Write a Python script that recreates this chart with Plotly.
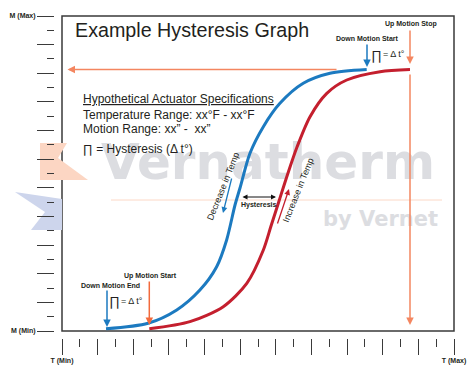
import plotly.graph_objects as go

# ---------------- data ----------------
x_tickvals = list(range(0, 23, 2))
x_ticktext = ["T (Min)"] + [""] * 10 + ["T (Max)"]
y_tickvals = list(range(0, 23, 2))
y_ticktext = ["M (Min)"] + [""] * 10 + ["M (Max)"]

# Decrease in Temp (blue) curve, T vs M in tick units
decrease_T = [2.47, 4.83, 6.44, 7.74, 8.68, 9.24, 9.71, 9.99, 10.55, 11.30, 12.23, 13.54, 15.04, 17.10]
decrease_M = [0.15, 0.54, 1.47, 2.86, 4.49, 6.36, 8.80, 9.99, 12.41, 14.27, 15.90, 17.30, 18.00, 18.26]
# Increase in Temp (red) curve
increase_T = [4.90, 7.18, 9.05, 10.37, 11.30, 11.73, 12.18, 12.63, 13.19, 13.92, 14.86, 15.98, 17.85, 19.53]
increase_M = [0.15, 0.65, 1.70, 3.33, 5.66, 7.33, 9.08, 10.83, 12.85, 14.97, 16.60, 17.53, 18.11, 18.26]

# ---------------- layout geometry ----------------
# the page body adds an 8px offset, so the figure is 8px smaller and margins shifted
OFF = 8
W, H = 475 - OFF, 381 - OFF
ML, MR, MT, MB = 54 - OFF, 21, 16 - OFF, 43
PW = W - ML - MR
PH = H - MT - MB
XD0 = 8 / PW
YD0 = 7 / PH

# helpers convert window-pixel positions (as measured on the reference) to axis / paper units
def X(px):
    return (px - OFF - (ML + 8)) / (PW * (1 - XD0)) * 22


def Y(py):
    return (H - MB - 7 - (py - OFF)) / (PH * (1 - YD0)) * 22


def PXp(px):
    return (px - OFF - ML) / PW


def PYp(py):
    return (H - MB - (py - OFF)) / PH


BLUE = "#1c7ac0"
RED = "#c41f2e"
ORANGE = "#f26a3c"
ORANGE_L = "#f48660"
INK = "#231f20"
FONT = "Liberation Sans, Arial, sans-serif"

fig = go.Figure()

# watermark (drawn first so the curves sit on top)
fig.add_trace(go.Scatter(x=[X(268)], y=[Y(166)], mode="text", text=["Vernatherm"],
                         textfont=dict(family="DejaVu Sans", size=50, color="#dcdde1", weight="bold"),
                         hoverinfo="skip", showlegend=False))
fig.add_trace(go.Scatter(x=[X(380.5)], y=[Y(221)], mode="text", text=["by Vernet"],
                         textfont=dict(family="DejaVu Sans", size=21, color="#dcdde1", weight="bold"),
                         hoverinfo="skip", showlegend=False))

fig.add_trace(go.Scatter(x=decrease_T, y=decrease_M, mode="lines",
                         line=dict(color=BLUE, width=3, shape="spline", smoothing=0.8),
                         hoverinfo="skip", showlegend=False))
fig.add_trace(go.Scatter(x=increase_T, y=increase_M, mode="lines",
                         line=dict(color=RED, width=3, shape="spline", smoothing=0.8),
                         hoverinfo="skip", showlegend=False))

shapes = [
    dict(type="rect", xref="x domain", yref="y domain", x0=0, x1=1, y0=0, y1=1,
         line=dict(color="#3a3a3a", width=1.5), layer="below"),
    dict(type="line", xref="x", yref="y", x0=X(111), x1=X(442), y0=Y(200), y1=Y(200),
         line=dict(color="#fcd8c6", width=1), layer="below"),
]


def poly(pts, color):
    d = "M " + " L ".join(f"{PXp(a):.4f},{PYp(b):.4f}" for a, b in pts) + " Z"
    return dict(type="path", xref="paper", yref="paper", path=d,
                fillcolor=color, line=dict(width=0), layer="below")


shapes.append(poly([(40, 143), (67, 143), (58, 158), (88, 180), (40, 180)], "#fcd6c3"))
shapes.append(poly([(15, 192), (62, 199), (62, 230), (31, 230), (45, 212)], "#cdd5ec"))

annotations = []


def label(text, px, py, size, xanchor="center", bold=False, angle=0, color=INK, family=FONT):
    annotations.append(dict(text=text, x=X(px), y=Y(py), xref="x", yref="y",
                            xanchor=xanchor, yanchor="middle", showarrow=False,
                            textangle=angle,
                            font=dict(family=family, size=size, color=color,
                                      weight="bold" if bold else "normal")))


def arrow(tail, tip, color, width=1.5, head=2, size=1.0, side="end"):
    annotations.append(dict(text="", x=X(tip[0]), y=Y(tip[1]), ax=X(tail[0]), ay=Y(tail[1]),
                            xref="x", yref="y", axref="x", ayref="y", showarrow=True,
                            arrowhead=head, arrowsize=size, arrowwidth=width,
                            arrowcolor=color, arrowside=side, startarrowhead=head,
                            startarrowsize=size))


# title
label("Example Hysteresis Graph", 73, 30, 19.7, xanchor="left")

# spec block
label("<u>Hypothetical Actuator Specifications</u>", 81, 99, 12, xanchor="left")
label("Temperature Range: xx°F - xx°F", 81, 114.5, 12, xanchor="left")
label("Motion Range: xx” -  xx”", 81, 129, 12, xanchor="left")
label("∏ = Hysteresis (Δ t°)", 81, 149, 12, xanchor="left")

# top markers
arrow((338, 69.5), (67.5, 69.5), ORANGE_L, width=1.5)
arrow((410, 29), (410, 64), ORANGE_L, width=1.5)
arrow((410, 73), (410, 325), ORANGE_L, width=1.5)
arrow((367, 43), (367, 67), BLUE, width=1.5)
label("Down Motion Start", 367, 38, 7, bold=True)
label("Up Motion Stop", 411, 24, 7, bold=True)
label("∏", 376, 55, 13)
label("= Δ t°", 380.5, 54, 9, xanchor="left")

# bottom markers
label("Down Motion End", 110, 285, 7, bold=True)
arrow((107, 289), (107, 327), BLUE, width=1.5)
label("Up Motion Start", 150.5, 276, 7, bold=True)
arrow((149.3, 280), (149.3, 325), ORANGE, width=1.5)
label("∏", 114.5, 301, 13)
label("= Δ t°", 119, 300.7, 9, xanchor="left")

# curve labels
label("Decrease in Temp", 222.7, 186.7, 9, angle=-68)
label("Increase in Temp", 298.3, 190, 9, angle=-68)
arrow((232, 177), (223, 213), BLUE, width=1.3, size=0.9)
arrow((277, 225), (289, 189), RED, width=1.3, size=0.9)
arrow((241, 197), (276, 197), "#111111", width=1, size=1, side="end+start")
label("Hysteresis", 258.5, 205, 7, bold=True)

tickfont = dict(family=FONT, size=7, color=INK, weight="bold")

fig.update_layout(
    width=W, height=H,
    margin=dict(l=ML, r=MR, t=MT, b=MB, pad=0, autoexpand=False),
    paper_bgcolor="white", plot_bgcolor="white",
    showlegend=False,
    font=dict(family=FONT, color=INK),
    shapes=shapes, annotations=annotations,
    xaxis=dict(domain=[XD0, 1], range=[0, 22], anchor="free", position=0,
               automargin=False,
               showgrid=False, zeroline=False, showline=False,
               tickmode="array", tickvals=x_tickvals, ticktext=x_ticktext,
               ticks="outside", ticklen=16, tickwidth=1.3, tickcolor="#3a3a3a",
               tickfont=tickfont,
               minor=dict(tickmode="linear", tick0=0, dtick=1, ticks="outside",
                          ticklen=8, tickwidth=1.3, tickcolor="#3a3a3a", showgrid=False),
               fixedrange=True),
    yaxis=dict(domain=[YD0, 1], range=[0, 22], anchor="free", position=0,
               automargin=False,
               showgrid=False, zeroline=False, showline=False,
               tickmode="array", tickvals=y_tickvals, ticktext=y_ticktext,
               ticks="outside", ticklen=17, tickwidth=1.3, tickcolor="#3a3a3a",
               tickfont=tickfont,
               minor=dict(tickmode="linear", tick0=0, dtick=1, ticks="outside",
                          ticklen=7, tickwidth=1.3, tickcolor="#3a3a3a", showgrid=False),
               fixedrange=True),
)

fig.write_html("out.html")
